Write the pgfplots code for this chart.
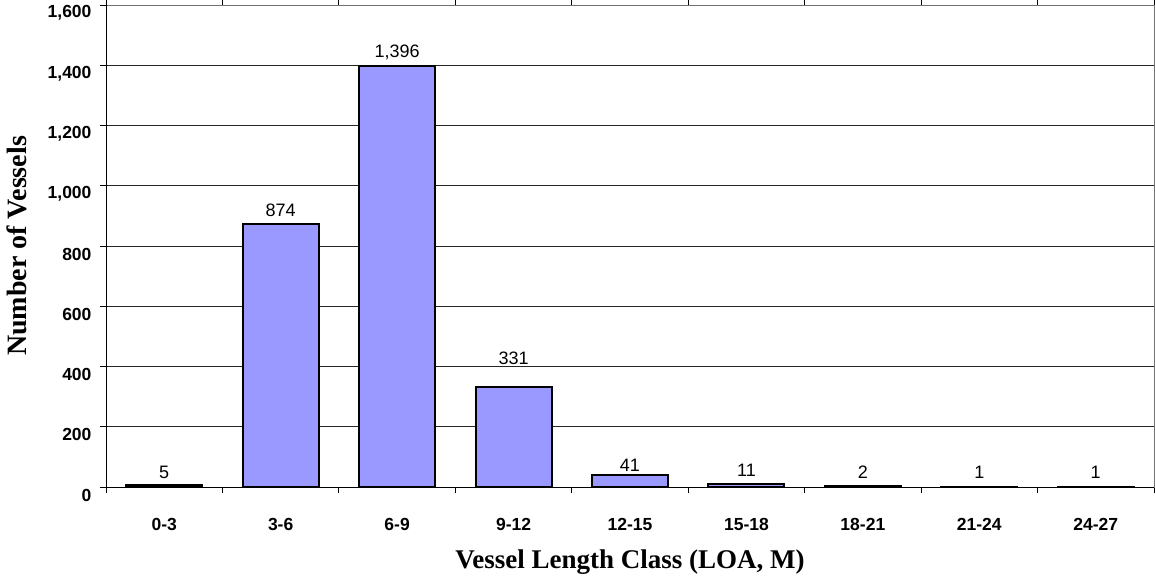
\documentclass[border=0pt]{standalone}
\usepackage{fontspec}
\setmainfont{Liberation Serif}
\newfontfamily\arial{Liberation Sans}
\usepackage{pgfplots}
\pgfplotsset{compat=1.18}
\definecolor{barfill}{HTML}{9999FF}

\begin{document}
\begin{tikzpicture}
  % image frame: 1155 x 578, axis origin at (106,91) from bottom-left
  \useasboundingbox (-106pt,-91pt) rectangle (1049pt,487pt);
  \begin{axis}[
    at={(0,0)}, anchor=south west,
    scale only axis,
    width=1048pt, height=482pt,
    xmin=-0.5, xmax=8.5,
    ymin=0, ymax=1600,
    ytick={0,200,...,1600},
    ymajorgrids,
    major grid style={black!85, line width=0.8pt},
    axis line style={black!55, line width=0.9pt},
    tick align=outside,
    tick style={black, line width=0.8pt},
    major tick length=6pt,
    minor tick length=6pt,
    xtick={0,...,8},
    xticklabels={0-3,3-6,6-9,9-12,12-15,15-18,18-21,21-24,24-27},
    x tick style={draw=none},
    minor xtick={-0.5,0.5,...,8.5},
    minor x tick style={draw=black, line width=0.8pt},
    ticklabel style={font=\arial\bfseries\fontsize{17.5}{20}\selectfont},
    xticklabel style={yshift=-22pt},
    yticklabel style={xshift=-5pt, yshift=-8pt},
    scaled y ticks=false,
    y tick label style={/pgf/number format/.cd, 1000 sep={,}},
    /pgf/number format/assume math mode=true,
    xlabel={\bfseries\fontsize{27}{30}\selectfont Vessel Length Class (LOA, M)},
    ylabel={\bfseries\fontsize{28}{31}\selectfont Number of Vessels},
    xlabel style={at={(axis description cs:0.5,0)}, anchor=center, yshift=-75pt},
    ylabel style={at={(axis description cs:-0.0849,0.5)}, anchor=center},
    clip=false,
  ]
    \addplot[ybar, bar width=76pt, bar shift=0pt, fill=barfill, draw=black, line width=2pt]
      coordinates {(0,5) (1,874) (2,1396) (3,331) (4,41) (5,11) (6,2) (7,1) (8,1)};
    % data labels, placed where the reference puts them
    \addplot[draw=none, mark=none, nodes near coords, point meta=explicit symbolic,
      every node near coord/.style={anchor=center, font=\arial\fontsize{18}{20}\selectfont}]
      coordinates {(0,50)[5] (1,919)[874] (2,1444)[{1,396}] (3,428)[331] (4,73)[41]
                   (5,56)[11] (6,50)[2] (7,50)[1] (8,50)[1]};
    \draw[black, line width=0.9pt] (rel axis cs:0,1) -- (rel axis cs:0,0) -- (rel axis cs:1,0);
  \end{axis}
\end{tikzpicture}
\end{document}
